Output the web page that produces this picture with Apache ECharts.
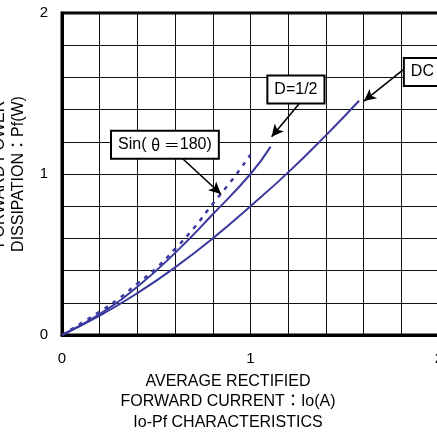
<!DOCTYPE html>
<html>
<head>
<meta charset="utf-8">
<script src="https://cdn.jsdelivr.net/npm/echarts@6/dist/echarts.min.js"></script>
<style>
html,body{margin:0;padding:0;background:#fff;}
#chart{width:437px;height:432px;}
</style>
</head>
<body>
<div id="chart"></div>
<script>
// ---- data ----
const dcX   = [0, 0.2, 0.4, 0.6, 0.8, 1.0, 1.2, 1.4, 1.576];
const dcY   = [0, 0.12, 0.26, 0.42, 0.60, 0.80, 1.01, 1.24, 1.455];
const halfX = [0, 0.2, 0.4, 0.6, 0.8, 1.0, 1.107];
const halfY = [0, 0.13, 0.30, 0.51, 0.75, 1.0, 1.17];
const sinX  = [0, 0.2, 0.3, 0.4, 0.5, 0.6, 0.7, 0.8, 0.9, 1.0];
const sinY  = [0, 0.145, 0.225, 0.32, 0.415, 0.535, 0.665, 0.815, 0.96, 1.12];
const xTickLabels = [0, 1, 2];
const yTickLabels = [0, 1, 2];
// annotation labels: text, box centre (data), arrow start (data), arrow tip (data)
const annoText  = ['{a|Sin( }{b|θ ＝}{a|180)}', 'D=1/2', 'DC'];
const annoBox   = [[0.546, 1.181], [1.241, 1.525], [1.912, 1.634]];
const annoFrom  = [[0.642, 1.093], [1.257, 1.435], [1.809, 1.646]];
const annoTip   = [[0.843, 0.876], [1.112, 1.232], [1.602, 1.453]];

const pairs = (xs, ys) => xs.map((x, i) => [x, ys[i]]);
const FONT = '"Liberation Sans", Arial, "Noto Sans CJK JP", sans-serif';
const CJK = '"Noto Sans CJK JP", sans-serif';
const BLUE = '#3a3a9e';
const isLabeled = (arr, v) => arr.some(t => Math.abs(t - v) < 1e-9);

function anno(i) {
  return {
    markPoint: {
      silent: true, animation: false,
      symbol: 'rect', symbolSize: 1,
      itemStyle: { color: 'rgba(0,0,0,0)' },
      label: {
        show: true, position: 'inside',
        formatter: annoText[i],
        color: '#000', fontSize: 16, fontFamily: FONT, lineHeight: 18,
        backgroundColor: '#fff', borderColor: '#000', borderWidth: 2,
        padding: [4, 6, 4, 6],
        rich: {
          a: { fontSize: 16, fontFamily: FONT, color: '#000', lineHeight: 18 },
          b: { fontSize: 16, fontFamily: CJK, color: '#000', lineHeight: 18 }
        }
      },
      data: [{ coord: annoBox[i] }]
    },
    markLine: {
      silent: true, animation: false,
      symbol: ['none', 'arrow'], symbolSize: [9, 12],
      label: { show: false },
      lineStyle: { color: '#000', width: 1.6, type: 'solid' },
      emphasis: { disabled: true },
      data: [[{ coord: annoFrom[i] }, { coord: annoTip[i] }]]
    }
  };
}

const chart = echarts.init(document.getElementById('chart'), null, { renderer: 'canvas' });
chart.setOption({
  animation: false,
  backgroundColor: '#fff',
  textStyle: { fontFamily: FONT },
  grid: {
    left: 62, top: 13, width: 377, height: 322,
    show: true, borderColor: '#000', borderWidth: 3,
    containLabel: false, outerBoundsMode: 'none'
  },
  xAxis: {
    type: 'value', min: 0, max: 2, interval: 0.2,
    axisLine: { show: true, onZero: false, lineStyle: { color: '#000', width: 3 } },
    axisTick: { show: false },
    splitLine: { show: true, lineStyle: { color: '#111', width: 1 } },
    axisLabel: {
      color: '#000', fontSize: 15, margin: 16, fontFamily: FONT,
      formatter: v => isLabeled(xTickLabels, v) ? String(Math.round(v)) : ''
    },
    name: 'AVERAGE RECTIFIED\nFORWARD CURRENT：Io(A)\nIo-Pf CHARACTERISTICS',
    nameLocation: 'middle', nameGap: 35,
    nameTextStyle: { color: '#000', fontSize: 16, lineHeight: 20.5, fontFamily: FONT, padding: [0, 45, 0, 0] }
  },
  yAxis: {
    type: 'value', min: 0, max: 2, interval: 0.2,
    axisLine: { show: true, onZero: false, lineStyle: { color: '#000', width: 3 } },
    axisTick: { show: false },
    splitLine: { show: true, lineStyle: { color: '#111', width: 1 } },
    axisLabel: {
      color: '#000', fontSize: 15, margin: 14, fontFamily: FONT,
      formatter: v => isLabeled(yTickLabels, v) ? String(Math.round(v)) : ''
    },
    name: 'FORWARD POWER\nDISSIPATION：Pf(W)',
    nameLocation: 'middle', nameGap: 34, nameRotate: 90,
    nameTextStyle: { color: '#000', fontSize: 16, lineHeight: 19, fontFamily: FONT }
  },
  series: [
    Object.assign({
      name: 'DC', type: 'line', smooth: 0.5, showSymbol: false, silent: true,
      lineStyle: { color: BLUE, width: 2 },
      data: pairs(dcX, dcY)
    }, anno(2)),
    Object.assign({
      name: 'D=1/2', type: 'line', smooth: 0.5, showSymbol: false, silent: true,
      lineStyle: { color: BLUE, width: 2 },
      data: pairs(halfX, halfY)
    }, anno(1)),
    Object.assign({
      name: 'Sin', type: 'line', smooth: 0.5, showSymbol: false, silent: true,
      lineStyle: { color: BLUE, width: 2.5, type: [4, 6] },
      data: pairs(sinX, sinY)
    }, anno(0))
  ]
});
</script>
</body>
</html>
